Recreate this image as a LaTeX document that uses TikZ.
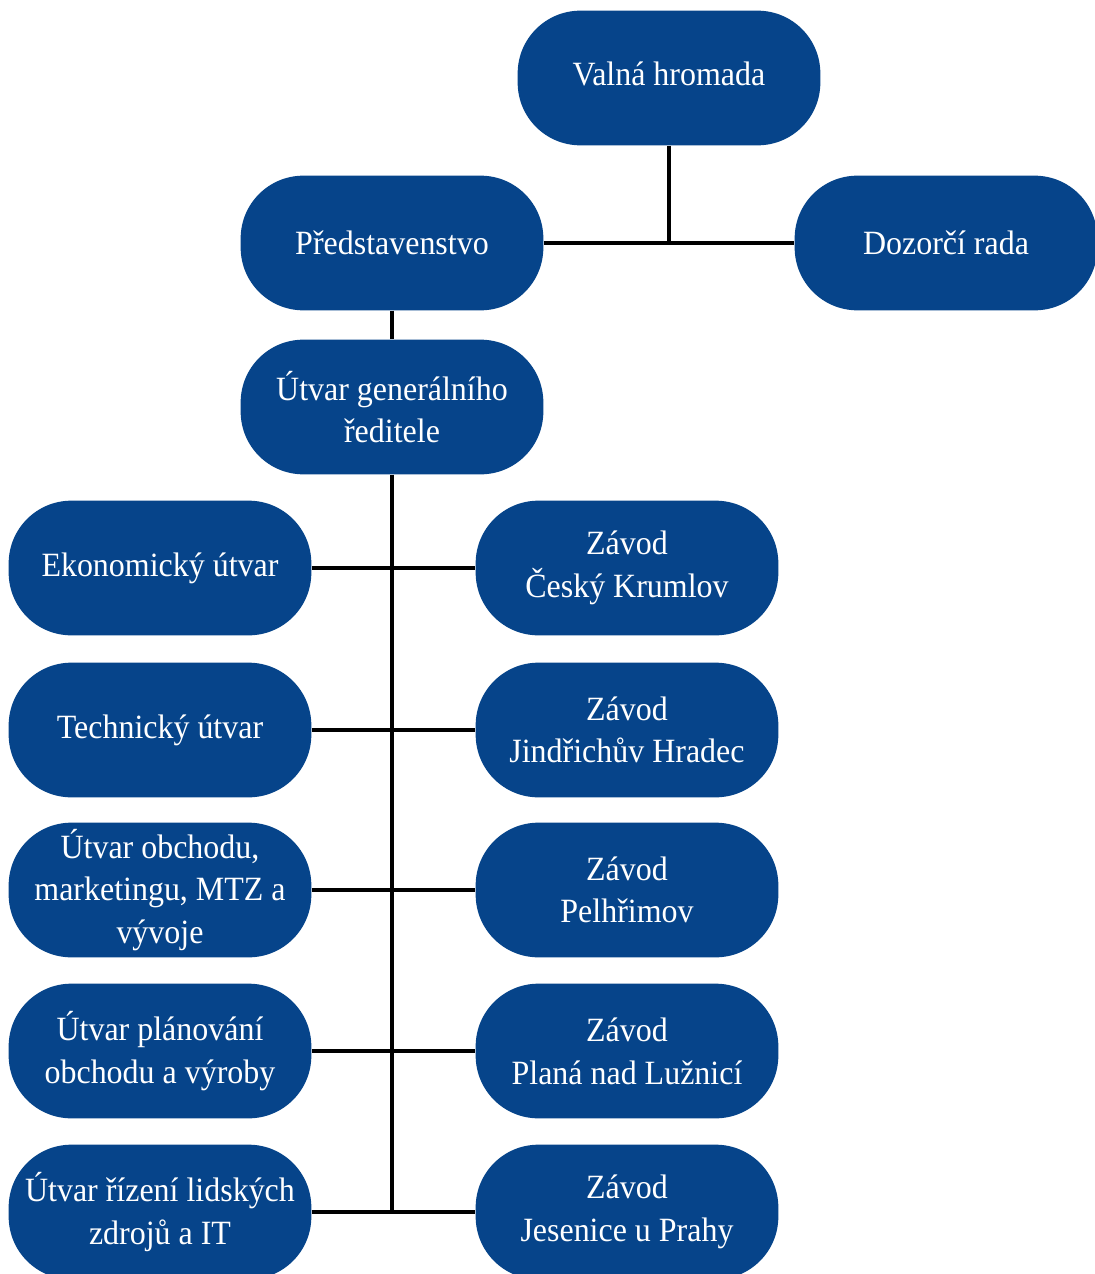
\documentclass[tikz,border=0pt]{standalone}
\usepackage{fontspec}
\setmainfont{Liberation Serif}[FakeStretch=0.94]
\definecolor{boxblue}{RGB}{6,68,138}
\tikzset{
  orgbox/.style={draw=none, fill=boxblue, text=white, rounded corners=47pt,
    minimum width=227pt, minimum height=101pt, inner sep=0pt, align=center,
    font=\fontsize{25.5}{32}\selectfont},
  conn/.style={draw=black, line width=3.2pt}
}
\begin{document}
\begin{tikzpicture}[x=0.75pt,y=-0.75pt]
\useasboundingbox (0,0) rectangle (1095,1274);
\node[orgbox] (vh) at (669,78) {Valná hromada\\[-26pt]\mbox{}};
\node[orgbox] (ps) at (392,243) {Představenstvo};
\node[orgbox] (dr) at (946,243) {Dozorčí rada};
\node[orgbox] (ug) at (392,407) {Útvar generálního\\ředitele};
\node[orgbox] (l1) at (160,568) {Ekonomický útvar};
\node[orgbox] (l2) at (160,730) {Technický útvar};
\node[orgbox] (l3) at (160,890) {Útvar obchodu,\\marketingu, MTZ a\\vývoje};
\node[orgbox] (l4) at (160,1051) {Útvar plánování\\obchodu a výroby};
\node[orgbox] (l5) at (160,1212) {Útvar řízení lidských\\zdrojů a IT};
\node[orgbox] (r1) at (627,568) {Závod\\Český Krumlov};
\node[orgbox] (r2) at (627,730) {Závod\\Jindřichův Hradec};
\node[orgbox] (r3) at (627,890) {Závod\\Pelhřimov};
\node[orgbox] (r4) at (627,1051) {Závod\\Planá nad Lužnicí};
\node[orgbox] (r5) at (627,1212) {Závod\\Jesenice u Prahy};
\draw[conn] (vh.south) -- (vh.south |- ps.east);
\draw[conn] (ps.east) -- (dr.west);
\draw[conn] (ps.south) -- (ug.north);
\coordinate (tb) at (ug.south |- l5.east);
\draw[conn] (ug.south) -- (tb);
\draw[conn] (l1.east) -- (r1.west);
\draw[conn] (l2.east) -- (r2.west);
\draw[conn] (l3.east) -- (r3.west);
\draw[conn] (l4.east) -- (r4.west);
\draw[conn] (l5.east) -- (r5.west);
\end{tikzpicture}
\end{document}
